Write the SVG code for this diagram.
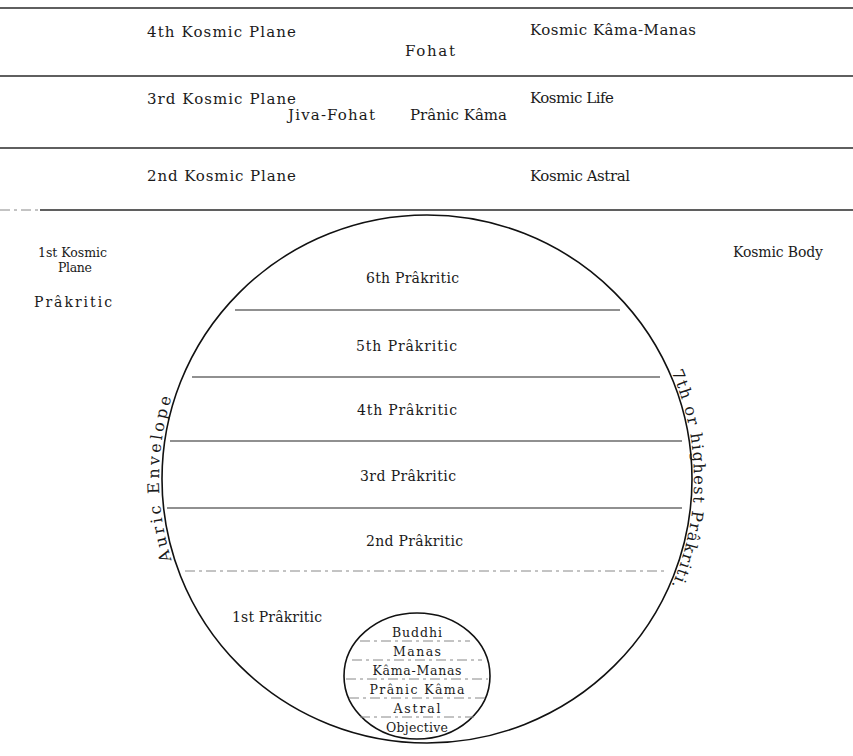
<svg xmlns="http://www.w3.org/2000/svg" width="853" height="756" viewBox="0 0 853 756">
<style>
text{font-family:"DejaVu Serif","Liberation Serif",serif;font-size:14px;fill:#1a1a1a}
.b{font-size:15px}
.s{font-size:12.5px}
.xs{font-size:12.5px}
.c{font-size:16px}
.band{stroke:#2a2a2a;stroke-width:1.3;fill:none}
.div{stroke:#222;stroke-width:1.2;fill:none}
.faint{stroke:#888;stroke-width:1;stroke-dasharray:10 4 3 4;fill:none}
.ring{stroke:#111;stroke-width:1.6;fill:none}
.m{text-anchor:middle}
</style>
<defs>
<path id="leftArc" d="M 221.7 651.3 A 268 268 0 0 1 221.7 306.7" fill="none"/>
<path id="rightArc" d="M 631.5 307.4 A 267 267 0 0 1 631.5 650.6" fill="none"/>
</defs>
<rect width="853" height="756" fill="#fff"/>
<g id="dividers">
<line class="band" x1="0" y1="8" x2="853" y2="8"/>
<line class="band" x1="0" y1="76" x2="853" y2="76"/>
<line class="band" x1="0" y1="148" x2="853" y2="148"/>
<line class="band" x1="40" y1="210" x2="853" y2="210"/>
<line class="faint" x1="0" y1="210" x2="40" y2="210"/>
</g>
<g id="plane4">
<text class="b" x="147" y="37" textLength="149" lengthAdjust="spacing">4th Kosmic Plane</text>
<text class="b" x="405" y="56" textLength="50" lengthAdjust="spacing">Fohat</text>
<text class="b" x="530" y="35" textLength="166" lengthAdjust="spacing">Kosmic Kâma-Manas</text>
</g>
<g id="plane3">
<text class="b" x="147" y="104" textLength="149" lengthAdjust="spacing">3rd Kosmic Plane</text>
<text class="b" x="288" y="120" textLength="87" lengthAdjust="spacing">Jiva-Fohat</text>
<text class="b" x="410" y="120" textLength="97" lengthAdjust="spacing">Prânic Kâma</text>
<text class="b" x="530" y="103" textLength="84" lengthAdjust="spacing">Kosmic Life</text>
</g>
<g id="plane2">
<text class="b" x="147" y="181" textLength="149" lengthAdjust="spacing">2nd Kosmic Plane</text>
<text class="b" x="530" y="181" textLength="100" lengthAdjust="spacing">Kosmic Astral</text>
</g>
<g id="plane1">
<text class="xs" x="38" y="257" textLength="69" lengthAdjust="spacing">1st Kosmic</text>
<text class="xs" x="58" y="272" textLength="34" lengthAdjust="spacing">Plane</text>
<text x="34" y="307" textLength="78" lengthAdjust="spacing">Prâkritic</text>
<text x="733" y="257" textLength="90" lengthAdjust="spacing">Kosmic Body</text>
</g>
<g id="kosmic-body">
<ellipse class="ring" cx="427" cy="479" rx="265" ry="264"/>
<line class="div" x1="235" y1="310" x2="620" y2="310"/>
<line class="div" x1="192" y1="377" x2="660" y2="377"/>
<line class="div" x1="170" y1="441" x2="682" y2="441"/>
<line class="div" x1="167" y1="508" x2="682" y2="508"/>
<line class="faint" x1="185" y1="571" x2="664" y2="571"/>
<text x="366" y="283" textLength="93" lengthAdjust="spacing">6th Prâkritic</text>
<text x="356" y="351" textLength="101" lengthAdjust="spacing">5th Prâkritic</text>
<text x="357" y="415" textLength="100" lengthAdjust="spacing">4th Prâkritic</text>
<text x="360" y="481" textLength="96" lengthAdjust="spacing">3rd Prâkritic</text>
<text x="366" y="546" textLength="97" lengthAdjust="spacing">2nd Prâkritic</text>
<text x="232" y="622" textLength="90" lengthAdjust="spacing">1st Prâkritic</text>
<text class="m c"><textPath href="#leftArc" startOffset="50%" textLength="165" lengthAdjust="spacing">Auric Envelope</textPath></text>
<text class="m c"><textPath href="#rightArc" startOffset="50%" textLength="220" lengthAdjust="spacing">7th or highest Prâkriti.</textPath></text>
</g>
<g id="inner-man">
<ellipse class="ring" cx="417" cy="676" rx="73" ry="63" stroke-width="2"/>
<g class="faint">
<line x1="360" y1="641" x2="470" y2="641"/>
<line x1="352" y1="660" x2="482" y2="660"/>
<line x1="346" y1="679" x2="488" y2="679"/>
<line x1="349" y1="698" x2="485" y2="698"/>
<line x1="360" y1="717" x2="474" y2="717"/>
</g>
<text class="m s" x="417" y="637" textLength="50" lengthAdjust="spacing">Buddhi</text>
<text class="m s" x="417" y="656" textLength="48" lengthAdjust="spacing">Manas</text>
<text class="m s" x="417" y="675" textLength="89" lengthAdjust="spacing">Kâma-Manas</text>
<text class="m s" x="417" y="694" textLength="95" lengthAdjust="spacing">Prânic Kâma</text>
<text class="m s" x="417" y="713" textLength="47" lengthAdjust="spacing">Astral</text>
<text class="m s" x="417" y="732" textLength="62" lengthAdjust="spacing">Objective</text>
</g>
</svg>
